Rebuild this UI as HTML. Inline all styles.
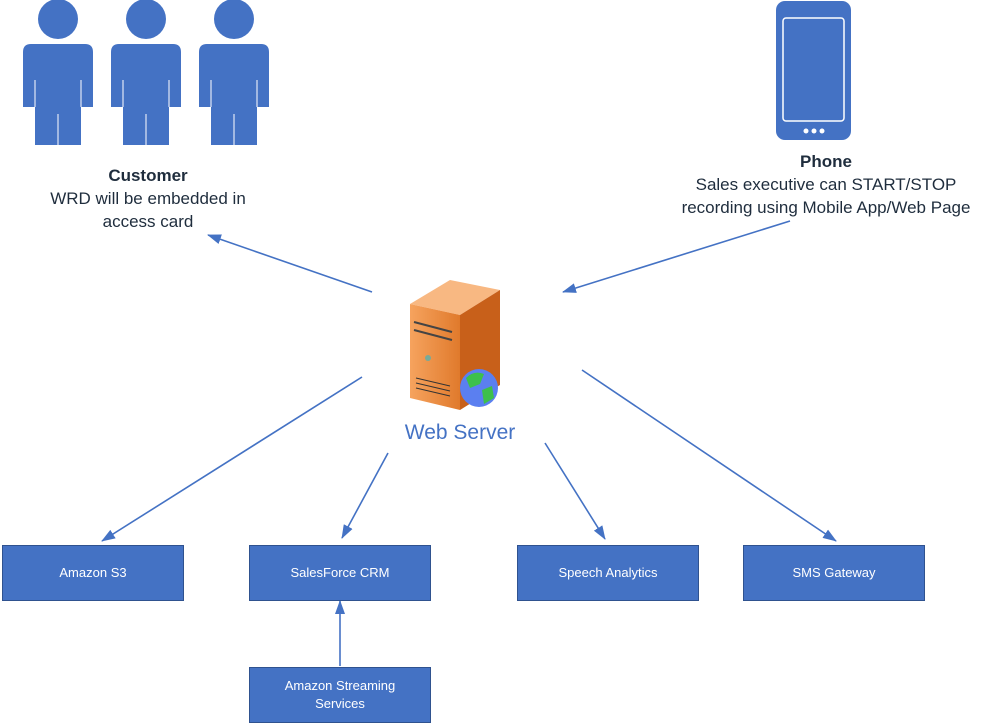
<!DOCTYPE html>
<html><head><style>
body{margin:0;background:#fff;width:981px;height:724px;position:relative;overflow:hidden;font-family:"Liberation Sans",sans-serif}
.b{position:absolute;background:#4472c4;border:1px solid #2f528f;color:#fff;font-size:13px;display:flex;align-items:center;justify-content:center;text-align:center;box-sizing:border-box;line-height:18px}
.t{position:absolute;text-align:center;color:#1f2d3d;font-size:17px;line-height:23px}
</style></head><body>
<svg width="981" height="724" style="position:absolute;left:0;top:0">
<defs>
<marker id="a" markerWidth="14" markerHeight="10" refX="13" refY="5" orient="auto" markerUnits="userSpaceOnUse"><path d="M0,0 L14,5 L0,10z" fill="#4472c4"/></marker>
<g id="p"><circle cx="0" cy="19" r="20" fill="#4472c4"/><path d="M-35,52 Q-35,44 -27,44 L27,44 Q35,44 35,52 L35,107 L23,107 L23,145 L-23,145 L-23,107 L-35,107z" fill="#4472c4"/><path d="M-23,80 V107 M23,80 V107 M0,114 V145" stroke="#fff" stroke-width="1"/></g>
<linearGradient id="o" x1="0" x2="1"><stop offset="0" stop-color="#f6a35e"/><stop offset="1" stop-color="#e07a2c"/></linearGradient>
</defs>
<use href="#p" x="58"/><use href="#p" x="146"/><use href="#p" x="234"/>
<rect x="776" y="1" width="75" height="139" rx="9" fill="#4472c4"/>
<rect x="783" y="18" width="61" height="103" rx="3" fill="none" stroke="#fff" stroke-width="1.5"/>
<circle cx="806" cy="131" r="2.5" fill="#fff"/><circle cx="814" cy="131" r="2.5" fill="#fff"/><circle cx="822" cy="131" r="2.5" fill="#fff"/>
<path d="M410,304 L450,280 L500,290 L460,315z" fill="#f8b882"/>
<path d="M460,315 L500,290 L500,385 L460,410z" fill="#c8601a"/>
<path d="M410,304 L460,315 L460,410 L410,398z" fill="url(#o)"/>
<path d="M414,322 L452,332 M414,330 L452,340" stroke="#444" stroke-width="2"/>
<circle cx="428" cy="358" r="3" fill="#7a9"/>
<path d="M416,378 L450,386 M416,383 L450,391 M416,388 L450,396" stroke="#333" stroke-width="1"/>
<circle cx="479" cy="388" r="19" fill="#5b7ff0"/>
<path d="M466,378 Q474,370 484,374 L480,384 L470,388z M482,390 L492,386 L494,398 L484,404z" fill="#3dc04a"/>
<g stroke="#4472c4" stroke-width="1.6" fill="none" marker-end="url(#a)">
<line x1="372" y1="292" x2="208" y2="235"/>
<line x1="790" y1="221" x2="563" y2="292"/>
<line x1="362" y1="377" x2="102" y2="541"/>
<line x1="388" y1="453" x2="342" y2="538"/>
<line x1="545" y1="443" x2="605" y2="539"/>
<line x1="582" y1="370" x2="836" y2="541"/>
<line x1="340" y1="666" x2="340" y2="601"/>
</g>
</svg>
<div class="t" style="left:20px;top:164px;width:256px"><b>Customer</b><br>WRD will be embedded in<br>access card</div>
<div class="t" style="left:660px;top:150px;width:332px"><b>Phone</b><br>Sales executive can START/STOP<br>recording using Mobile App/Web Page</div>
<div style="position:absolute;left:390px;top:421px;width:140px;text-align:center;color:#4472c4;font-size:21px">Web Server</div>
<div class="b" style="left:2px;top:545px;width:182px;height:56px">Amazon S3</div>
<div class="b" style="left:249px;top:545px;width:182px;height:56px">SalesForce CRM</div>
<div class="b" style="left:517px;top:545px;width:182px;height:56px">Speech Analytics</div>
<div class="b" style="left:743px;top:545px;width:182px;height:56px">SMS Gateway</div>
<div class="b" style="left:249px;top:667px;width:182px;height:56px">Amazon Streaming<br>Services</div>
</body></html>
